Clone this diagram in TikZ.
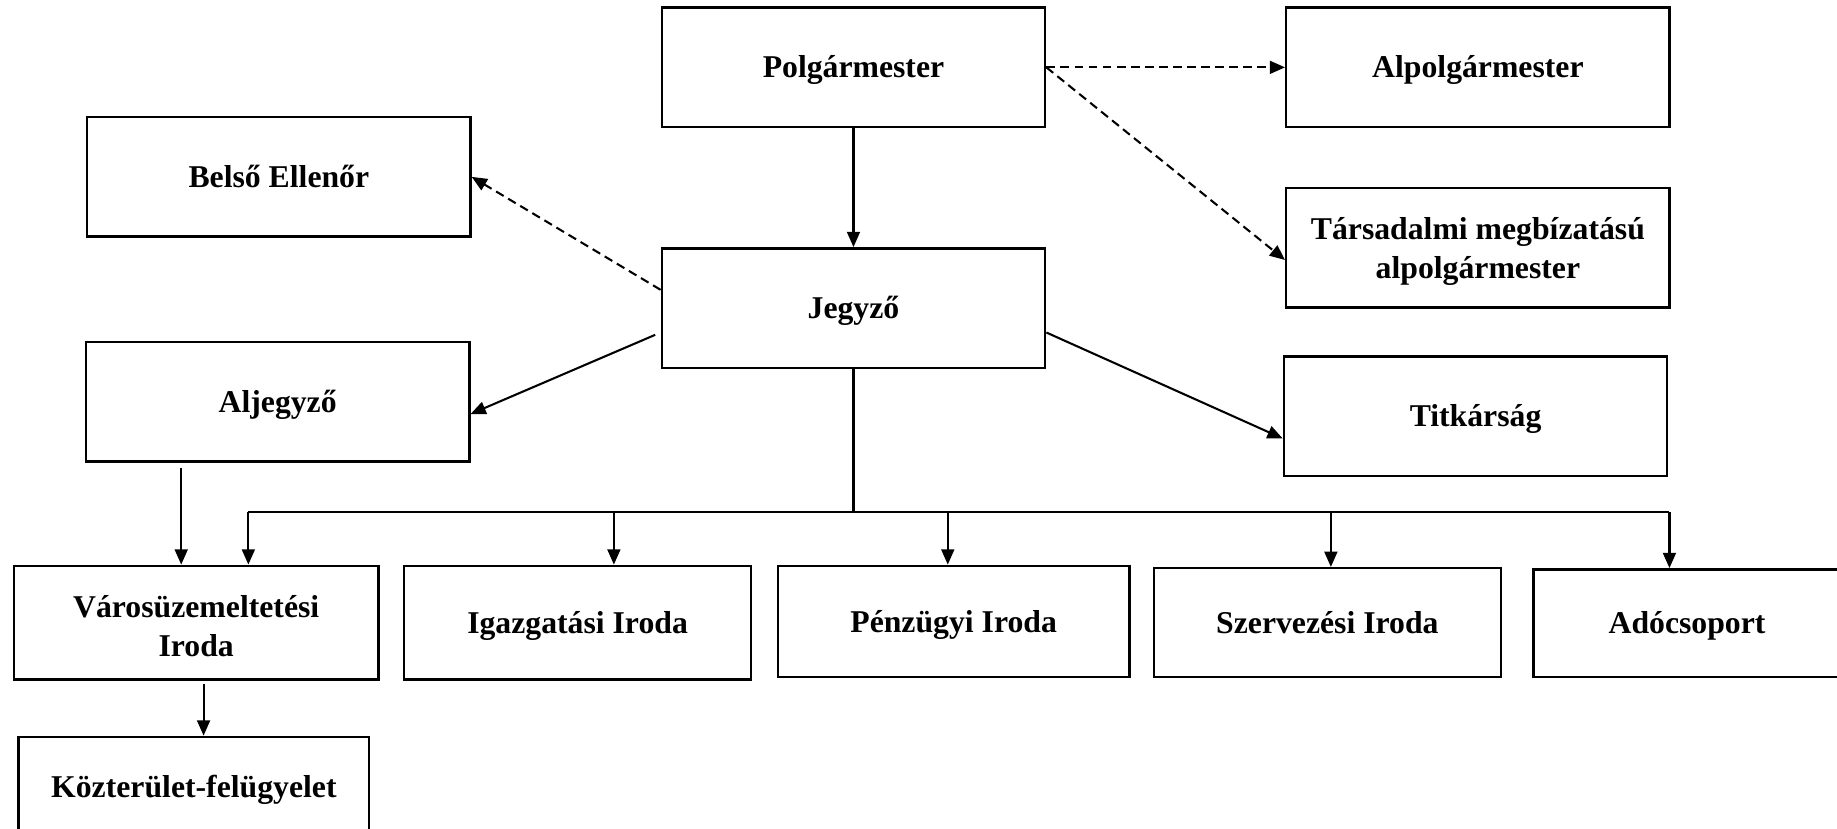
\documentclass[tikz,border=0pt]{standalone}
\usepackage{fontspec}
\setmainfont{Liberation Serif}
\usetikzlibrary{arrows.meta,calc,positioning}
\newcommand{\BusY}{437}
\newcommand{\TopW}{3.27cm}
\newcommand{\TopH}{1.02cm}
\newcommand{\UnitH}{0.97cm}
\newcommand{\LineLift}{\rule{0pt}{7pt}}

\begin{document}
\begin{tikzpicture}[
  x=0.01cm, y=-0.01cm,
  >={Triangle[length=1.3mm,width=1.1mm]},
  box/.style={draw=black,line width=0.6pt,align=center,inner sep=1pt,text height=5.1pt,text depth=0pt,font=\bfseries\fontsize{7.7}{9.4}\selectfont},
  twoline/.style={text height=,text depth=},
  topbox/.style={box,minimum width=\TopW,minimum height=\TopH},
  unitbox/.style={box,minimum height=\UnitH},
  link/.style={black,line width=0.5pt,->},
  dlink/.style={link,dash pattern=on 0.75mm off 0.45mm}
]
\useasboundingbox (0,0) rectangle (1568,707);

% Leadership
\node[topbox] (polg) at (728.5,57.5) {Polgármester};
\node[topbox] (alpolg) at (1261.5,57.5) {Alpolgármester};
\node[topbox] (belso) at (238,151) {Belső Ellenőr};
\node[topbox,twoline] (tars) at (1261.5,211.5) {\LineLift Társadalmi megbízatású\\alpolgármester};
\node[topbox] (jegyzo) at (728.5,263) {Jegyző};
\node[topbox] (aljegyzo) at (237,343) {Aljegyző};
\node[topbox] (titk) at (1259.5,355.5) {Titkárság};

% Offices
\node[unitbox,twoline,minimum width=3.11cm] (varos) at (167.5,531.5) {\LineLift Városüzemeltetési\\Iroda};
\node[unitbox,minimum width=2.96cm] (igazg) at (493,531.5) {Igazgatási Iroda};
\node[unitbox,minimum width=3.00cm,minimum height=0.95cm] (penz) at (814,530.5) {Pénzügyi Iroda};
\node[unitbox,minimum width=2.96cm,minimum height=0.93cm] (szerv) at (1133,531.5) {Szervezési Iroda};
\node[unitbox,minimum width=2.62cm,minimum height=0.92cm] (ado) at (1440,532) {Adócsoport};
\node[unitbox,minimum width=2.99cm,minimum height=0.86cm] (kozter) at (165.5,672) {Közterület-felügyelet};

% Mayor's lines
\draw[link] (polg) -- (jegyzo);
\draw[dlink] (polg.east) -- (alpolg.west);
\draw[dlink] (polg.east) -- ($(tars.north west)!0.6!(tars.south west)$);

% Notary's lines
\draw[dlink] ($(jegyzo.north west)!0.35!(jegyzo.south west)$) -- (belso.east);
\draw[link,shorten <=0.5mm] ($(jegyzo.north west)!0.7!(jegyzo.south west)$) -- ($(aljegyzo.north east)!0.6!(aljegyzo.south east)$);
\draw[link] ($(jegyzo.north east)!0.7!(jegyzo.south east)$) -- ($(titk.north west)!0.68!(titk.south west)$);

% Bus to the offices
\coordinate (bus) at ($(jegyzo.south)+(0,123)$);
\draw[line width=0.5pt] (jegyzo.south) -- (bus);
\foreach \bx/\unit in {212/varos,524/igazg,809/penz,1136/szerv,1425/ado}{
  \coordinate (t\unit) at (\bx,\BusY);
  \draw[link] (t\unit) -- (t\unit |- \unit.north);
}
\draw[line width=0.5pt] (tvaros) -- (tado);

% Deputy notary and public space supervision
\coordinate (aljout) at ($(aljegyzo.south west)!0.25!(aljegyzo.south east)$);
\draw[link,shorten <=0.4mm] (aljout) -- (aljout |- varos.north);
\coordinate (varosout) at ($(varos.south west)!0.52!(varos.south east)$);
\draw[link,shorten <=0.3mm] (varosout) -- (varosout |- kozter.north);

\end{tikzpicture}
\end{document}
